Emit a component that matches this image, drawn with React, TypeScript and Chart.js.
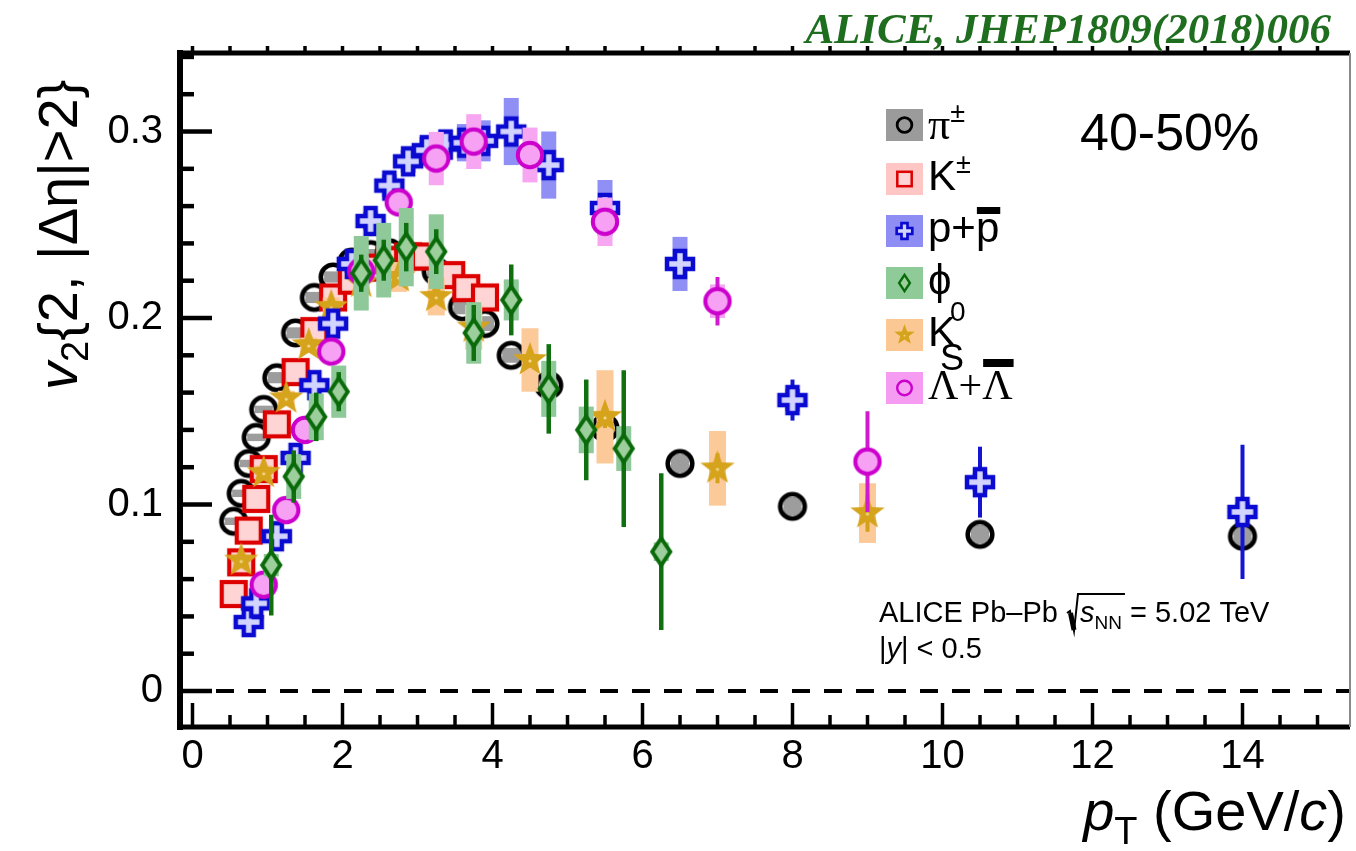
import React, { useEffect, useRef } from "react";
import { Chart, registerables } from "chart.js";
Chart.register(...registerables);

// ---------------- data ----------------
const xTickValues = [0, 2, 4, 6, 8, 10, 12, 14];
const yTickValues = [0, 0.1, 0.2, 0.3];

// pi+-
const piPt = [0.55, 0.65, 0.75, 0.85, 0.95, 1.125, 1.375, 1.625, 1.875, 2.125, 2.375, 2.625, 2.875, 3.25, 3.6, 3.9, 4.25, 4.75, 5.5, 6.5, 8, 10.5, 14];
const piV2 = [0.091, 0.106, 0.122, 0.136, 0.151, 0.168, 0.192, 0.211, 0.222, 0.23, 0.234, 0.235, 0.233, 0.225, 0.206, 0.197, 0.18, 0.164, 0.141, 0.122, 0.099, 0.084, 0.083];
const piStat = [0.0005, 0.0005, 0.0005, 0.0005, 0.0005, 0.0005, 0.0005, 0.0005, 0.0005, 0.0005, 0.0005, 0.0005, 0.0005, 0.001, 0.001, 0.001, 0.001, 0.001, 0.001, 0.001, 0.002, 0.002, 0.004];
const piSys = [0.002, 0.002, 0.002, 0.002, 0.002, 0.003, 0.003, 0.003, 0.003, 0.003, 0.003, 0.004, 0.004, 0.004, 0.004, 0.004, 0.004, 0.004, 0.005, 0.005, 0.005, 0.005, 0.005];

// K+-
const kPt = [0.55, 0.65, 0.75, 0.85, 0.95, 1.125, 1.375, 1.625, 1.875, 2.125, 2.375, 2.625, 2.875, 3.1, 3.45, 3.65, 3.9];
const kV2 = [0.052, 0.069, 0.086, 0.103, 0.119, 0.143, 0.171, 0.193, 0.211, 0.22, 0.227, 0.231, 0.233, 0.233, 0.223, 0.216, 0.211];
const kStat = [0.0005, 0.0005, 0.0005, 0.0005, 0.0005, 0.0005, 0.0005, 0.0005, 0.0005, 0.0005, 0.001, 0.001, 0.001, 0.001, 0.001, 0.002, 0.002];
const kSys = [0.003, 0.003, 0.003, 0.003, 0.003, 0.003, 0.003, 0.003, 0.003, 0.003, 0.003, 0.003, 0.003, 0.004, 0.004, 0.004, 0.004];

// p + pbar
const pPt = [0.75, 0.85, 1.125, 1.375, 1.625, 1.875, 2.125, 2.375, 2.625, 2.875, 3.125, 3.375, 3.625, 3.875, 4.25, 4.75, 5.5, 6.5, 8, 10.5, 14];
const pV2 = [0.037, 0.047, 0.083, 0.125, 0.164, 0.197, 0.229, 0.252, 0.271, 0.284, 0.29, 0.293, 0.294, 0.295, 0.3, 0.282, 0.259, 0.229, 0.156, 0.112, 0.096];
const pStat = [0.001, 0.001, 0.001, 0.001, 0.001, 0.001, 0.001, 0.001, 0.002, 0.002, 0.002, 0.002, 0.003, 0.003, 0.004, 0.005, 0.006, 0.008, 0.011, 0.019, 0.036];
const pSys = [0.002, 0.002, 0.003, 0.003, 0.004, 0.004, 0.005, 0.005, 0.006, 0.006, 0.007, 0.008, 0.01, 0.011, 0.018, 0.018, 0.015, 0.0145, 0.006, 0.005, 0.005];

// phi
const phiPt = [1.05, 1.35, 1.65, 1.95, 2.25, 2.55, 2.85, 3.25, 3.75, 4.25, 4.75, 5.25, 5.75, 6.25];
const phiV2 = [0.0675, 0.115, 0.147, 0.1605, 0.224, 0.231, 0.238, 0.2356, 0.192, 0.2097, 0.162, 0.14, 0.13, 0.0747];
const phiStat = [0.027, 0.014, 0.013, 0.0105, 0.01, 0.011, 0.013, 0.012, 0.015, 0.019, 0.024, 0.027, 0.042, 0.042];
const phiSys = [0.006, 0.012, 0.0125, 0.014, 0.02, 0.02, 0.021, 0.02, 0.0165, 0.011, 0.015, 0.0125, 0.012, 0.005];

// K0s
const k0Pt = [0.65, 0.95, 1.25, 1.55, 1.85, 2.25, 2.75, 3.25, 3.75, 4.5, 5.5, 7, 9];
const k0V2 = [0.07, 0.117, 0.157, 0.1855, 0.206, 0.219, 0.222, 0.2114, 0.195, 0.1775, 0.147, 0.1194, 0.0954];
const k0Stat = [0.001, 0.001, 0.001, 0.001, 0.001, 0.001, 0.001, 0.002, 0.003, 0.004, 0.006, 0.008, 0.01];
const k0Sys = [0.003, 0.004, 0.004, 0.004, 0.005, 0.006, 0.008, 0.01, 0.012, 0.017, 0.025, 0.02, 0.016];

// Lambda + anti-Lambda
const lamPt = [0.95, 1.25, 1.5, 1.85, 2.25, 2.75, 3.25, 3.75, 4.5, 5.5, 7, 9];
const lamV2 = [0.057, 0.097, 0.14, 0.182, 0.225, 0.262, 0.2855, 0.2946, 0.2874, 0.2516, 0.209, 0.123];
const lamStat = [0.002, 0.002, 0.002, 0.002, 0.002, 0.003, 0.003, 0.004, 0.005, 0.007, 0.013, 0.027];
const lamSys = [0.003, 0.004, 0.005, 0.006, 0.008, 0.006, 0.0143, 0.0147, 0.0147, 0.013, 0.009, 0.006];

// ---------------- styles ----------------
const SANS = '"Liberation Sans", Arial, Helvetica, sans-serif';
const SERIF = '"Liberation Serif", "Times New Roman", serif';
const X_MIN = -12.5 / 75;
const X_MAX = 1157.5 / 75;
const Y_MIN = -0.0193;
const Y_MAX = 0.3421;

type Kind = "pi" | "k" | "p" | "phi" | "k0" | "lam";

const SPECIES: { kind: Kind; label: string; pt: number[]; v2: number[]; stat: number[]; sys: number[]; order: number }[] = [
  { kind: "pi", label: "π±", pt: piPt, v2: piV2, stat: piStat, sys: piSys, order: 5 },
  { kind: "k", label: "K±", pt: kPt, v2: kV2, stat: kStat, sys: kSys, order: 4 },
  { kind: "p", label: "p+p̄", pt: pPt, v2: pV2, stat: pStat, sys: pSys, order: 2 },
  { kind: "phi", label: "φ", pt: phiPt, v2: phiV2, stat: phiStat, sys: phiSys, order: 0 },
  { kind: "k0", label: "K0S", pt: k0Pt, v2: k0V2, stat: k0Stat, sys: k0Sys, order: 3 },
  { kind: "lam", label: "Λ+Λ̄", pt: lamPt, v2: lamV2, stat: lamStat, sys: lamSys, order: 1 },
];

const STYLE: Record<Kind, { sys: string; stat: string; statW: number; half: number }> = {
  pi: { sys: "#9d9d9d", stat: "#9d9d9d", statW: 3, half: 9 },
  k: { sys: "#ffbcbc", stat: "#dd0000", statW: 3, half: 10 },
  p: { sys: "#8f8ff5", stat: "#1414d2", statW: 4, half: 7.5 },
  phi: { sys: "#8fc99a", stat: "#107010", statW: 4.5, half: 7.5 },
  k0: { sys: "#fcc999", stat: "#d4a21a", statW: 4, half: 8.5 },
  lam: { sys: "#f7a6f2", stat: "#d01ad0", statW: 4, half: 7.5 },
};

function drawMarker(ctx: CanvasRenderingContext2D, kind: Kind, cx: number, cy: number, k: number) {
  ctx.save();
  ctx.translate(cx, cy);
  ctx.scale(k, k);
  ctx.lineJoin = "miter";
  if (kind === "pi") {
    ctx.beginPath();
    ctx.arc(0, 0, 12.3, 0, Math.PI * 2);
    ctx.lineWidth = 4.6;
    ctx.strokeStyle = "#000";
    ctx.stroke();
  } else if (kind === "k") {
    ctx.fillStyle = "#ffd4d4";
    ctx.fillRect(-12, -12, 24, 24);
    ctx.lineWidth = 4.2;
    ctx.strokeStyle = "#dd0000";
    ctx.strokeRect(-12, -12, 24, 24);
  } else if (kind === "p") {
    const a = 5, L = 13;
    const pts = [[-a, -L], [a, -L], [a, -a], [L, -a], [L, a], [a, a], [a, L], [-a, L], [-a, a], [-L, a], [-L, -a], [-a, -a]];
    ctx.beginPath();
    pts.forEach(([x, y], i) => (i ? ctx.lineTo(x, y) : ctx.moveTo(x, y)));
    ctx.closePath();
    ctx.fillStyle = "#d2d4ff";
    ctx.fill();
    ctx.lineWidth = 4.5;
    ctx.strokeStyle = "#0a0ad0";
    ctx.stroke();
  } else if (kind === "phi") {
    ctx.beginPath();
    ctx.moveTo(0, -13.5);
    ctx.lineTo(9, 0);
    ctx.lineTo(0, 13.5);
    ctx.lineTo(-9, 0);
    ctx.closePath();
    ctx.fillStyle = "#9ccf9c";
    ctx.fill();
    ctx.lineWidth = 4;
    ctx.strokeStyle = "#0a6a0a";
    ctx.stroke();
  } else if (kind === "k0") {
    ctx.beginPath();
    for (let i = 0; i < 10; i++) {
      const ang = -Math.PI / 2 + (i * Math.PI) / 5;
      const r = i % 2 === 0 ? 18 : 7.4;
      const x = r * Math.cos(ang), y = r * Math.sin(ang);
      i ? ctx.lineTo(x, y) : ctx.moveTo(x, y);
    }
    ctx.closePath();
    ctx.fillStyle = "#d6a31c";
    ctx.fill();
    ctx.beginPath();
    ctx.arc(0, 1, 1.6, 0, Math.PI * 2);
    ctx.fillStyle = "#f3d98e";
    ctx.fill();
  } else {
    ctx.beginPath();
    ctx.arc(0, 0, 12.2, 0, Math.PI * 2);
    ctx.fillStyle = "#f7a1f4";
    ctx.fill();
    ctx.lineWidth = 4;
    ctx.strokeStyle = "#cc00cc";
    ctx.stroke();
  }
  ctx.restore();
}

function markerCanvas(kind: Kind) {
  const c = document.createElement("canvas");
  c.width = 40;
  c.height = 40;
  drawMarker(c.getContext("2d")!, kind, 20, 20, 1);
  return c;
}

interface Run { t: string; f: string; dy?: number; dx?: number; adv?: boolean; bar?: [number, number] }
function drawRuns(ctx: CanvasRenderingContext2D, x: number, y: number, list: Run[]) {
  let cx = x;
  for (const r of list) {
    ctx.font = r.f;
    const px = cx + (r.dx || 0);
    ctx.fillText(r.t, px, y + (r.dy || 0));
    const w = ctx.measureText(r.t).width;
    if (r.bar) ctx.fillRect(px + 1, y + r.bar[0], w, r.bar[1] - r.bar[0]);
    if (r.adv !== false) cx = px + w;
  }
  return cx;
}
function runsWidth(ctx: CanvasRenderingContext2D, list: Run[]) {
  let w = 0;
  for (const r of list) {
    ctx.font = r.f;
    if (r.adv !== false) w += ctx.measureText(r.t).width + (r.dx || 0);
  }
  return w;
}

const errorPlugin = {
  id: "errbars",
  beforeDatasetDraw(chart: any, args: any) {
    const sp = SPECIES[args.index];
    if (!sp) return;
    const st = STYLE[sp.kind];
    const ctx: CanvasRenderingContext2D = chart.ctx;
    const xs = chart.scales.x, ys = chart.scales.y;
    ctx.save();
    ctx.fillStyle = st.sys;
    sp.pt.forEach((x, i) => {
      const px = xs.getPixelForValue(x);
      const y1 = ys.getPixelForValue(sp.v2[i] + sp.sys[i]);
      const y2 = ys.getPixelForValue(sp.v2[i] - sp.sys[i]);
      ctx.fillRect(px - st.half, y1, st.half * 2, y2 - y1);
    });
    ctx.strokeStyle = st.stat;
    ctx.lineWidth = st.statW;
    sp.pt.forEach((x, i) => {
      const px = xs.getPixelForValue(x);
      ctx.beginPath();
      ctx.moveTo(px, ys.getPixelForValue(sp.v2[i] + sp.stat[i]));
      ctx.lineTo(px, ys.getPixelForValue(sp.v2[i] - sp.stat[i]));
      ctx.stroke();
    });
    ctx.restore();
  },
};

const decorPlugin = {
  id: "decor",
  beforeDatasetsDraw(chart: any) {
    const ctx: CanvasRenderingContext2D = chart.ctx;
    const { left, right } = chart.chartArea;
    const y0 = chart.scales.y.getPixelForValue(0);
    ctx.save();
    ctx.setLineDash([18, 14]);
    ctx.lineWidth = 4;
    ctx.strokeStyle = "#000";
    ctx.beginPath();
    ctx.moveTo(left + 4, y0);
    ctx.lineTo(right, y0);
    ctx.stroke();
    ctx.restore();
  },
  afterDraw(chart: any) {
    const ctx: CanvasRenderingContext2D = chart.ctx;
    const { left, right, top, bottom } = chart.chartArea;
    const xs = chart.scales.x, ys = chart.scales.y;
    ctx.save();
    ctx.strokeStyle = "#000";
    ctx.fillStyle = "#000";

    // y ticks (inward)
    ctx.lineWidth = 4.5;
    for (let i = -1; i <= 17; i++) {
      const py = ys.getPixelForValue(i * 0.02);
      if (py < top + 3 || py > bottom - 3) continue;
      const len = i % 5 === 0 ? 32 : 14;
      ctx.beginPath();
      ctx.moveTo(left, py);
      ctx.lineTo(left + len, py);
      ctx.stroke();
    }
    // x ticks bottom (inward) and top (outward small)
    ctx.lineWidth = 3.5;
    for (let i = 0; i <= 31; i++) {
      const px = xs.getPixelForValue(i * 0.5);
      if (px < left + 3 || px > right - 2) continue;
      const major = i % 4 === 0;
      ctx.beginPath();
      ctx.moveTo(px, bottom);
      ctx.lineTo(px, bottom - (major ? 24 : 12));
      ctx.stroke();
      ctx.beginPath();
      ctx.moveTo(px, top);
      ctx.lineTo(px, top - 7);
      ctx.stroke();
    }
    // frame
    ctx.lineWidth = 6;
    ctx.beginPath();
    ctx.moveTo(left, top - 3);
    ctx.lineTo(left, bottom + 3);
    ctx.stroke();
    ctx.lineWidth = 5;
    ctx.beginPath();
    ctx.moveTo(left, bottom);
    ctx.lineTo(right, bottom);
    ctx.moveTo(left, top);
    ctx.lineTo(right, top);
    ctx.stroke();
    ctx.strokeStyle = "#8a8a8a";
    ctx.lineWidth = 2;
    ctx.beginPath();
    ctx.moveTo(right, top);
    ctx.lineTo(right, bottom);
    ctx.stroke();
    ctx.strokeStyle = "#000";

    ctx.textAlign = "left";
    ctx.textBaseline = "alphabetic";
    ctx.fillStyle = "#000";

    // y-axis title (rotated)
    ctx.save();
    ctx.translate(77, 390);
    ctx.rotate(-Math.PI / 2);
    drawRuns(ctx, 0, 0, [
      { t: "v", f: `italic 56px ${SANS}` },
      { t: "2", f: `38px ${SANS}`, dy: 11 },
      { t: "{2, |Δη|>2}", f: `56px ${SANS}` },
    ]);
    ctx.restore();

    // x-axis title
    const xt: Run[] = [
      { t: "p", f: `italic 56px ${SANS}` },
      { t: "T", f: `38px ${SANS}`, dy: 14 },
      { t: " (GeV/", f: `56px ${SANS}` },
      { t: "c", f: `italic 56px ${SANS}` },
      { t: ")", f: `56px ${SANS}` },
    ];
    drawRuns(ctx, 1346 - runsWidth(ctx, xt), 830, xt);

    // reference label
    ctx.save();
    ctx.fillStyle = "#1f6e1f";
    ctx.font = `italic bold 43px ${SERIF}`;
    ctx.textAlign = "right";
    ctx.fillText("ALICE, JHEP1809(2018)006", 1331, 43);
    ctx.restore();

    // centrality
    ctx.font = `52px ${SANS}`;
    ctx.fillText("40-50%", 1080, 150);

    // legend
    const boxColor: Record<Kind, string> = { pi: "#9b9b9b", k: "#ffc6c6", p: "#8d8df3", phi: "#8fcb98", k0: "#fbc792", lam: "#f59cf2" };
    const rows: { kind: Kind; cy: number; runs: Run[] }[] = [
      { kind: "pi", cy: 125, runs: [{ t: "π", f: `44px ${SERIF}` }, { t: "±", f: `27px ${SANS}`, dy: -17 }] },
      { kind: "k", cy: 179, runs: [{ t: "K", f: `42px ${SANS}` }, { t: "±", f: `27px ${SANS}`, dy: -17 }] },
      { kind: "p", cy: 231, runs: [{ t: "p+", f: `42px ${SANS}` }, { t: "p", f: `42px ${SANS}`, bar: [-35, -28] }] },
      { kind: "phi", cy: 283, runs: [{ t: "ϕ", f: `42px ${SANS}` }] },
      { kind: "k0", cy: 335, runs: [{ t: "K", f: `42px ${SANS}` }, { t: "0", f: `28px ${SANS}`, dy: -25, dx: -6, adv: false }, { t: "S", f: `36px ${SANS}`, dy: 24, dx: -16 }] },
      { kind: "lam", cy: 388, runs: [{ t: "Λ+", f: `42px ${SERIF}` }, { t: "Λ", f: `42px ${SERIF}`, bar: [-40, -32] }] },
    ];
    rows.forEach((r) => {
      ctx.fillStyle = boxColor[r.kind];
      ctx.fillRect(886, r.cy - 16, 37, 32);
      drawMarker(ctx, r.kind, 904.5, r.cy, 0.6);
      ctx.fillStyle = "#000";
      drawRuns(ctx, 928, r.cy + (r.kind === "pi" ? 14 : 11), r.runs);
    });

    // collision system text
    ctx.fillStyle = "#000";
    ctx.strokeStyle = "#000";
    const by = 622;
    const x = drawRuns(ctx, 879, by, [{ t: "ALICE Pb–Pb ", f: `29px ${SANS}` }]);
    const sx = x + 1;
    ctx.font = `italic 29px ${SANS}`;
    const sW = ctx.measureText("s").width;
    ctx.font = `19px ${SANS}`;
    const nnW = ctx.measureText("NN").width;
    ctx.lineWidth = 2;
    ctx.beginPath();
    ctx.moveTo(sx, by - 9);
    ctx.lineTo(sx + 3, by - 11);
    ctx.lineTo(sx + 7, by + 9);
    ctx.lineTo(sx + 11, by - 28);
    ctx.lineTo(sx + 14 + sW + nnW + 2, by - 28);
    ctx.stroke();
    ctx.lineWidth = 5;
    ctx.beginPath();
    ctx.moveTo(sx + 3.5, by - 9);
    ctx.lineTo(sx + 7, by + 8);
    ctx.stroke();
    drawRuns(ctx, sx + 13, by, [
      { t: "s", f: `italic 29px ${SANS}` },
      { t: "NN", f: `19px ${SANS}`, dy: 7 },
      { t: " = 5.02 TeV", f: `29px ${SANS}` },
    ]);
    drawRuns(ctx, 879, 658, [
      { t: "|", f: `29px ${SANS}` },
      { t: "y", f: `italic 29px ${SANS}` },
      { t: "| < 0.5", f: `29px ${SANS}` },
    ]);
    ctx.restore();
  },
};

export default function App() {
  const ref = useRef<HTMLCanvasElement>(null);
  useEffect(() => {
    const canvas = ref.current!;
    const datasets = SPECIES.map((s) => ({
      label: s.label,
      data: s.pt.map((x, i) => ({ x, y: s.v2[i] })),
      pointStyle: markerCanvas(s.kind) as any,
      pointRadius: 14,
      pointHoverRadius: 14,
      showLine: false,
      order: s.order,
    }));
    const chart = new Chart(canvas, {
      type: "scatter",
      data: { datasets },
      options: {
        responsive: false,
        animation: false,
        devicePixelRatio: 1,
        layout: { autoPadding: false, padding: { top: 53, right: 6, left: 0, bottom: 0 } },
        plugins: { legend: { display: false }, tooltip: { enabled: false } },
        events: [],
        scales: {
          x: {
            type: "linear",
            position: "bottom",
            min: X_MIN,
            max: X_MAX,
            grid: { display: false, drawTicks: false },
            border: { display: false },
            ticks: {
              color: "#000",
              font: { family: SANS, size: 40 },
              padding: 6,
              maxRotation: 0,
              autoSkip: false,
              callback: (v: any) => String(v),
            },
            afterBuildTicks: (s: any) => {
              s.ticks = xTickValues.map((v) => ({ value: v }));
            },
            afterFit: (s: any) => {
              s.height = 124;
              s.paddingLeft = 0;
              s.paddingRight = 0;
              s.paddingTop = 0;
              s.paddingBottom = 0;
            },
          },
          y: {
            type: "linear",
            position: "left",
            min: Y_MIN,
            max: Y_MAX,
            grid: { display: false, drawTicks: false },
            border: { display: false },
            ticks: {
              color: "#000",
              font: { family: SANS, size: 40 },
              padding: 17,
              autoSkip: false,
              callback: (v: any) => String(v),
            },
            afterBuildTicks: (s: any) => {
              s.ticks = yTickValues.map((v) => ({ value: v }));
            },
            afterFit: (s: any) => {
              s.width = 180;
              s.paddingLeft = 0;
              s.paddingRight = 0;
              s.paddingTop = 0;
              s.paddingBottom = 0;
            },
          },
        },
      } as any,
      plugins: [errorPlugin, decorPlugin],
    });
    return () => chart.destroy();
  }, []);
  return (
    <div style={{ position: "absolute", left: 0, top: 0, width: 1356, height: 851, background: "#fff" }}>
      <canvas ref={ref} width={1356} height={851} style={{ width: 1356, height: 851, display: "block" }} />
    </div>
  );
}
